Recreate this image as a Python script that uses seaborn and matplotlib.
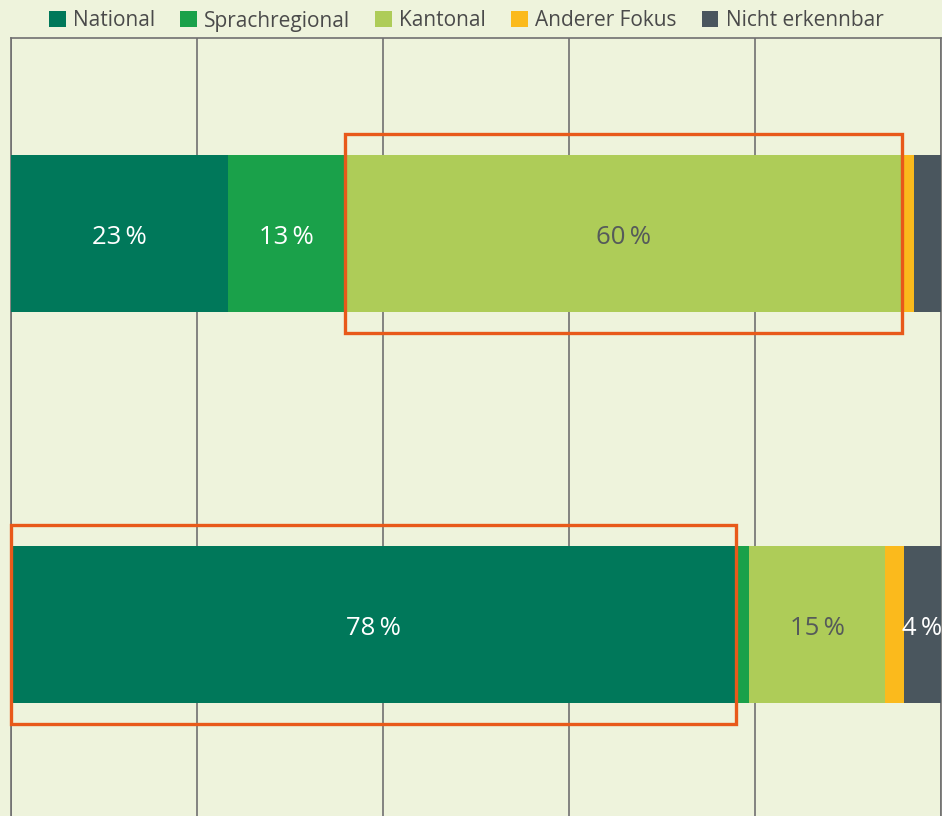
import numpy as np
import pandas as pd
import matplotlib.pyplot as plt
import seaborn as sns
from matplotlib.patches import Patch, Rectangle

# Daten
gruppen = ['A', 'B']
kategorien = ['National', 'Sprachregional', 'Kantonal', 'Anderer Fokus', 'Nicht erkennbar']
werte = {
    'National':        [23.3, 77.9],
    'Sprachregional':  [12.6, 1.5],
    'Kantonal':        [59.9, 14.6],
    'Anderer Fokus':   [1.3, 2.0],
    'Nicht erkennbar': [2.9, 4.0],
}
farben = ['#00785A', '#1AA14A', '#AECC58', '#FBBA1C', '#4A565E']
textfarben = ['white', 'white', '#555A5A', 'white', 'white']
# markierte Segmente (Gruppe, Kategorie)
markiert = [(0, 'Kantonal'), (1, 'National')]

bg = '#EEF3DC'
sns.set_style('white')
plt.rcParams['font.family'] = ['Open Sans', 'DejaVu Sans']

df = pd.DataFrame(werte, index=gruppen)
kum = df.cumsum(axis=1)
start = kum - df

fig = plt.figure(figsize=(9.42, 8.16), dpi=100, facecolor=bg)
ax = fig.add_axes([11/942, 0, 930/942, 778/816])
ax.set_facecolor(bg)

# gestapelte Balken: kumulierte Summen von hinten nach vorne zeichnen
for i in range(len(kategorien) - 1, -1, -1):
    k = kategorien[i]
    d = pd.DataFrame({'gruppe': gruppen, 'wert': kum[k].values})
    sns.barplot(data=d, x='wert', y='gruppe', orient='h', color=farben[i],
                width=0.4, saturation=1, linewidth=0, ax=ax, zorder=3)

# Beschriftungen
for gi in range(len(gruppen)):
    for i, k in enumerate(kategorien):
        v = df.loc[gruppen[gi], k]
        if round(v) >= 4:
            x = start.loc[gruppen[gi], k] + v / 2
            ax.text(x, gi + 0.01, f'{round(v)}\u2009%', ha='center', va='center',
                    color=textfarben[i], fontsize=18.5, zorder=5)

# orange Markierungen
for gi, k in markiert:
    x0 = start.loc[gruppen[gi], k]
    w = df.loc[gruppen[gi], k]
    ax.add_patch(Rectangle((x0 + 0.05, gi - 0.255), w, 0.51, fill=False,
                           edgecolor='#E8591A', linewidth=2.4, zorder=6,
                           clip_on=False))

ax.set_xlim(0, 100)
ax.set_ylim(1.49, -0.5)
ax.set_xticks([0, 20, 40, 60, 80, 100])
ax.set_yticks([])
ax.set_xticklabels([])
ax.tick_params(length=0)
ax.set_xlabel('')
ax.set_ylabel('')
ax.grid(axis='x', color='#707070', linewidth=1.2, zorder=0)
ax.set_axisbelow(True)
for s in ['left', 'top', 'right']:
    ax.spines[s].set_color('#707070')
    ax.spines[s].set_linewidth(1.2)
ax.spines['bottom'].set_visible(False)

handles = [Patch(facecolor=c, edgecolor='none', label=k) for k, c in zip(kategorien, farben)]
fig.legend(handles=handles, loc='center', bbox_to_anchor=(0.495, 1 - 21/816), ncol=5,
           frameon=False, fontsize=15, labelcolor='#4A4A4A', handlelength=0.8,
           handleheight=0.8, handletextpad=0.35, columnspacing=1.2)

fig.savefig('out.png', dpi=100, facecolor=bg)
